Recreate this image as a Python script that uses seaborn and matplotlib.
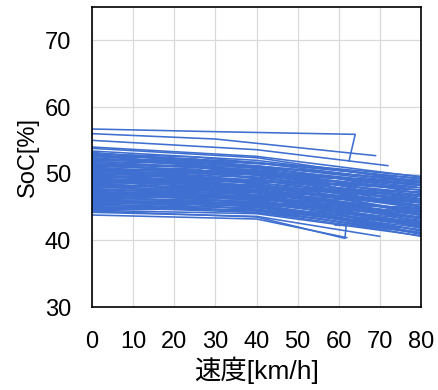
import pandas as pd
import numpy as np
import matplotlib
matplotlib.use('Agg')
import matplotlib.pyplot as plt
import seaborn as sns

# 各走行の SoC 推移 (速度 0 km/h, 40 km/h, 終端速度での SoC)
soc_0 = [53.4, 53.1, 52.8, 52.6, 52.3, 52.1, 51.9, 51.6, 51.4, 51.2,
         51.0, 50.8, 50.6, 50.4, 50.2, 50.0, 49.8, 49.6, 49.4, 49.2,
         49.0, 48.8, 48.6, 48.4, 48.2, 48.0, 47.8, 47.6, 47.4, 47.2,
         47.0, 46.8, 46.6, 46.4, 46.2, 46.0, 45.8, 45.6, 45.4, 45.2,
         45.0, 44.8, 44.5, 44.2, 43.8, 52.9, 51.7, 50.9, 50.3, 49.5,
         48.9, 48.1, 47.5, 46.9, 46.3, 45.7, 45.1, 53.2, 52.4, 50.7,
         49.9, 49.1, 48.3, 47.7, 51.5, 50.5]
soc_40 = [52.0, 51.6, 51.7, 51.0, 50.8, 51.2, 50.3, 50.6, 49.8, 50.1,
          49.5, 49.9, 49.0, 49.4, 48.7, 49.1, 48.2, 48.6, 47.9, 48.3,
          47.5, 47.9, 47.1, 47.6, 46.8, 47.2, 46.4, 46.9, 46.0, 46.5,
          45.7, 46.2, 45.3, 45.8, 45.0, 45.5, 44.7, 45.2, 44.4, 44.9,
          44.2, 44.6, 44.0, 43.6, 43.2, 50.2, 49.3, 48.5, 50.0, 49.0,
          48.9, 48.0, 47.7, 47.3, 46.6, 46.1, 45.6, 50.9, 50.5, 48.0,
          47.4, 46.7, 46.1, 45.5, 51.0, 50.4]
end_kmh = [74, 78, 80, 76, 80, 72, 80, 79, 80, 77,
           80, 75, 80, 80, 78, 80, 80, 73, 80, 80,
           76, 80, 80, 79, 80, 74, 80, 80, 77, 80,
           80, 78, 80, 80, 75, 80, 80, 79, 80, 80,
           72, 80, 80, 70, 62, 80, 80, 80, 80, 80,
           78, 80, 80, 76, 80, 80, 80, 68, 66, 80,
           80, 80, 80, 80, 80, 80]
soc_end = [49.5, 48.8, 49.2, 47.9, 48.3, 49.0, 47.5, 48.0, 46.8, 47.6,
           46.2, 47.8, 45.9, 47.1, 45.4, 46.6, 44.8, 46.9, 45.1, 46.0,
           44.6, 45.6, 43.9, 45.2, 43.5, 44.9, 43.2, 44.4, 42.9, 43.8,
           42.5, 43.6, 42.1, 43.0, 41.9, 42.7, 41.6, 42.3, 41.2, 41.9,
           41.5, 41.0, 40.7, 40.6, 40.4, 46.5, 45.0, 44.2, 48.6, 47.9,
           48.1, 47.3, 46.8, 46.1, 45.7, 44.8, 44.3, 47.2, 47.0, 43.3,
           42.8, 42.0, 41.4, 41.1, 49.0, 48.4]

# 別の走行群 (速度 0, 25, 55 km/h と終端での SoC)
b_soc_0 = [52.6, 52.0, 51.3, 50.7, 50.1, 49.7, 49.3, 48.7, 48.3, 47.9,
           47.3, 46.7, 46.1, 45.5, 44.9, 44.6, 51.8, 50.5, 49.0, 47.1,
           53.0, 52.2, 48.5, 46.5, 45.3, 50.0, 51.1, 49.8, 47.6, 45.9]
b_soc_25 = [52.2, 51.9, 51.0, 50.5, 49.6, 49.5, 48.8, 48.6, 48.0, 47.8,
            47.0, 46.6, 46.0, 45.6, 44.9, 44.7, 51.5, 50.0, 48.4, 46.5,
            52.5, 52.0, 48.9, 46.9, 45.8, 50.2, 50.7, 49.0, 47.3, 45.4]
b_soc_55 = [49.8, 50.4, 48.6, 49.6, 47.2, 48.3, 46.3, 47.6, 45.5, 46.9,
            44.8, 45.9, 44.1, 45.0, 43.3, 44.2, 48.0, 46.8, 45.0, 43.8,
            50.8, 51.0, 48.6, 46.5, 45.4, 49.4, 47.7, 46.0, 45.2, 43.6]
b_end_kmh = [80, 80, 80, 80, 80, 79, 80, 80, 80, 80,
             77, 80, 80, 80, 80, 80, 80, 80, 80, 80,
             80, 80, 80, 80, 80, 80, 71, 67, 75, 80]
b_soc_end = [47.0, 48.7, 44.5, 48.2, 43.7, 46.4, 42.6, 46.2, 41.8, 45.3,
             41.3, 44.6, 40.9, 43.4, 40.6, 42.4, 45.6, 44.0, 42.2, 41.5,
             49.3, 49.6, 47.6, 45.9, 44.9, 48.9, 45.8, 44.7, 42.9, 41.0]

# 形の違う走行 (速度, SoC の点列)
extra_kmh = [
    [0, 30, 64, 62.5],
    [0, 30, 69],
    [0, 40, 72],
    [0, 40, 80],
    [0, 40, 78],
    [0, 40, 61.5, 61.8, 59],
]
extra_soc = [
    [56.7, 56.3, 55.9, 51.9],
    [56.0, 55.2, 52.7],
    [55.0, 53.6, 51.2],
    [54.0, 52.6, 49.5],
    [53.8, 52.4, 48.9],
    [44.4, 43.5, 40.3, 42.2, 42.3],
]

rows = []
for i in range(len(soc_0)):
    for v, s in zip([0, 40, end_kmh[i]], [soc_0[i], soc_40[i], soc_end[i]]):
        rows.append({'run': i, 'speed': v, 'soc': s})
for i in range(len(b_soc_0)):
    pts = zip([0, 25, 55, b_end_kmh[i]],
              [b_soc_0[i], b_soc_25[i], b_soc_55[i], b_soc_end[i]])
    for v, s in pts:
        rows.append({'run': 200 + i, 'speed': v, 'soc': s})
for j in range(len(extra_kmh)):
    for v, s in zip(extra_kmh[j], extra_soc[j]):
        rows.append({'run': 100 + j, 'speed': v, 'soc': s})
df = pd.DataFrame(rows)

sns.set_style('white')
plt.rcParams['font.family'] = ['Liberation Sans', 'Noto Sans CJK JP']
plt.rcParams['text.color'] = 'black'
plt.rcParams['axes.labelcolor'] = 'black'
plt.rcParams['xtick.color'] = 'black'
plt.rcParams['ytick.color'] = 'black'

fig = plt.figure(figsize=(4.39, 3.90), dpi=100)
ax = fig.add_axes([0.2096, 0.2128, 0.7494, 0.7692])

sns.lineplot(data=df, x='speed', y='soc', units='run', estimator=None,
             sort=False, color='#3f6fd0', lw=1.15, ax=ax)

ax.set_xlim(0, 80)
ax.set_ylim(30, 75)
ax.set_xticks(range(0, 81, 10))
ax.set_yticks(range(30, 71, 10))
ax.grid(True, color='#d9d9d9', lw=0.9)
ax.set_axisbelow(True)
ax.tick_params(axis='x', length=0, labelsize=17, pad=17)
ax.tick_params(axis='y', length=0, labelsize=17, pad=15)
for sp in ax.spines.values():
    sp.set_color('black')
    sp.set_linewidth(1.2)

ax.set_xlabel('速度[km/h]', fontsize=19, labelpad=3)
ax.set_ylabel('SoC[%]', fontsize=17, labelpad=4)

fig.savefig('out.png', dpi=100)
